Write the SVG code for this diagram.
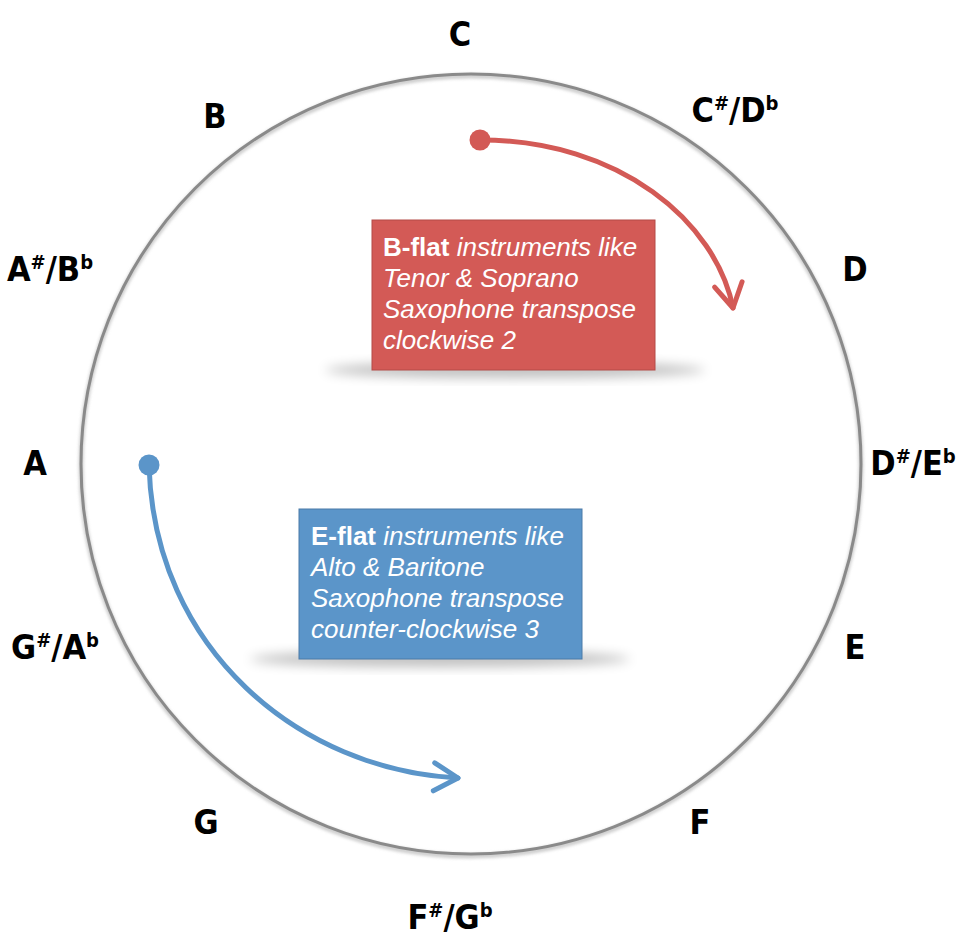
<svg xmlns="http://www.w3.org/2000/svg" width="960" height="938" viewBox="0 0 960 938">
<style>
.note{font-family:"DejaVu Sans Condensed","DejaVu Sans",sans-serif;font-weight:bold;font-size:34px;fill:#000;text-anchor:middle}
.acc{font-size:20px}
.box{font-family:"Liberation Sans",Arial,sans-serif;font-size:26px;fill:#fff;font-style:italic}
.box .b{font-weight:bold;font-style:normal}
.conn{fill:none;stroke-width:5;stroke-linecap:round}
</style>
<defs>
<filter id="blur" x="-50%" y="-50%" width="200%" height="200%"><feGaussianBlur stdDeviation="6"/></filter>
<filter id="soft" x="-10%" y="-10%" width="120%" height="120%"><feGaussianBlur stdDeviation="1.5"/></filter>
<marker id="redHead" markerUnits="userSpaceOnUse" viewBox="-30 -20 40 40" refX="0" refY="0" markerWidth="40" markerHeight="40" orient="auto">
<path d="M-24,-14 L0,0 L-24,14" fill="none" stroke="#d35a56" stroke-width="5" stroke-linecap="round" stroke-linejoin="round"/>
</marker>
<marker id="blueHead" markerUnits="userSpaceOnUse" viewBox="-30 -20 40 40" refX="0" refY="0" markerWidth="40" markerHeight="40" orient="auto">
<path d="M-24,-14 L0,0 L-24,14" fill="none" stroke="#5b95c9" stroke-width="5" stroke-linecap="round" stroke-linejoin="round"/>
</marker>
<marker id="redDot" markerUnits="userSpaceOnUse" viewBox="-12 -12 24 24" refX="0" refY="0" markerWidth="24" markerHeight="24">
<circle r="10.5" fill="#d35a56"/>
</marker>
<marker id="blueDot" markerUnits="userSpaceOnUse" viewBox="-12 -12 24 24" refX="0" refY="0" markerWidth="24" markerHeight="24">
<circle r="10.5" fill="#5b95c9"/>
</marker>
</defs>
<rect width="960" height="938" fill="#fff"/>
<g id="wheel">
<circle cx="471" cy="466" r="390" fill="none" stroke="#cfcfcf" stroke-width="5" filter="url(#soft)"/>
<circle cx="471" cy="464" r="390" fill="none" stroke="#8a8a8a" stroke-width="3"/>
</g>
<g id="labels">
<g id="n-C"><text class="note" x="460" y="46">C</text></g>
<g id="n-Cs"><text class="note" x="735" y="122">C<tspan class="acc" dy="-12">#</tspan><tspan dy="12">/D</tspan><tspan class="acc" dy="-12">b</tspan></text></g>
<g id="n-D"><text class="note" x="855" y="281">D</text></g>
<g id="n-Ds"><text class="note" x="913" y="475">D<tspan class="acc" dy="-12">#</tspan><tspan dy="12">/E</tspan><tspan class="acc" dy="-12">b</tspan></text></g>
<g id="n-E"><text class="note" x="855" y="659">E</text></g>
<g id="n-F"><text class="note" x="700" y="834">F</text></g>
<g id="n-Fs"><text class="note" x="450" y="929">F<tspan class="acc" dy="-12">#</tspan><tspan dy="12">/G</tspan><tspan class="acc" dy="-12">b</tspan></text></g>
<g id="n-G"><text class="note" x="206" y="834">G</text></g>
<g id="n-Gs"><text class="note" x="55" y="659">G<tspan class="acc" dy="-12">#</tspan><tspan dy="12">/A</tspan><tspan class="acc" dy="-12">b</tspan></text></g>
<g id="n-A"><text class="note" x="35" y="475">A</text></g>
<g id="n-As"><text class="note" x="50" y="281">A<tspan class="acc" dy="-12">#</tspan><tspan dy="12">/B</tspan><tspan class="acc" dy="-12">b</tspan></text></g>
<g id="n-B"><text class="note" x="215" y="128">B</text></g>
</g>
<g id="connectors">
<path class="conn" stroke="#d35a56" d="M480,140 C620,140 716,222 733,308" marker-start="url(#redDot)" marker-end="url(#redHead)"/>
<path class="conn" stroke="#5b95c9" d="M149,465 C154,650 300,770 458,778" marker-start="url(#blueDot)" marker-end="url(#blueHead)"/>
</g>
<g id="bflat">
<ellipse cx="515" cy="370" rx="190" ry="8" fill="#000" opacity="0.25" filter="url(#blur)"/>
<rect x="372" y="220" width="283" height="150" fill="#d35a56" stroke="#b44a47" stroke-width="1"/>
<text class="box" x="383" y="256"><tspan class="b">B-flat</tspan> instruments like</text>
<text class="box" x="383" y="287">Tenor &amp; Soprano</text>
<text class="box" x="383" y="318">Saxophone transpose</text>
<text class="box" x="383" y="349">clockwise 2</text>
</g>
<g id="eflat">
<ellipse cx="440" cy="659" rx="190" ry="8" fill="#000" opacity="0.25" filter="url(#blur)"/>
<rect x="299" y="509" width="283" height="150" fill="#5b95c9" stroke="#4a7aa8" stroke-width="1"/>
<text class="box" x="311" y="545"><tspan class="b">E-flat</tspan> instruments like</text>
<text class="box" x="311" y="576">Alto &amp; Baritone</text>
<text class="box" x="311" y="607">Saxophone transpose</text>
<text class="box" x="311" y="638">counter-clockwise 3</text>
</g>
</svg>
